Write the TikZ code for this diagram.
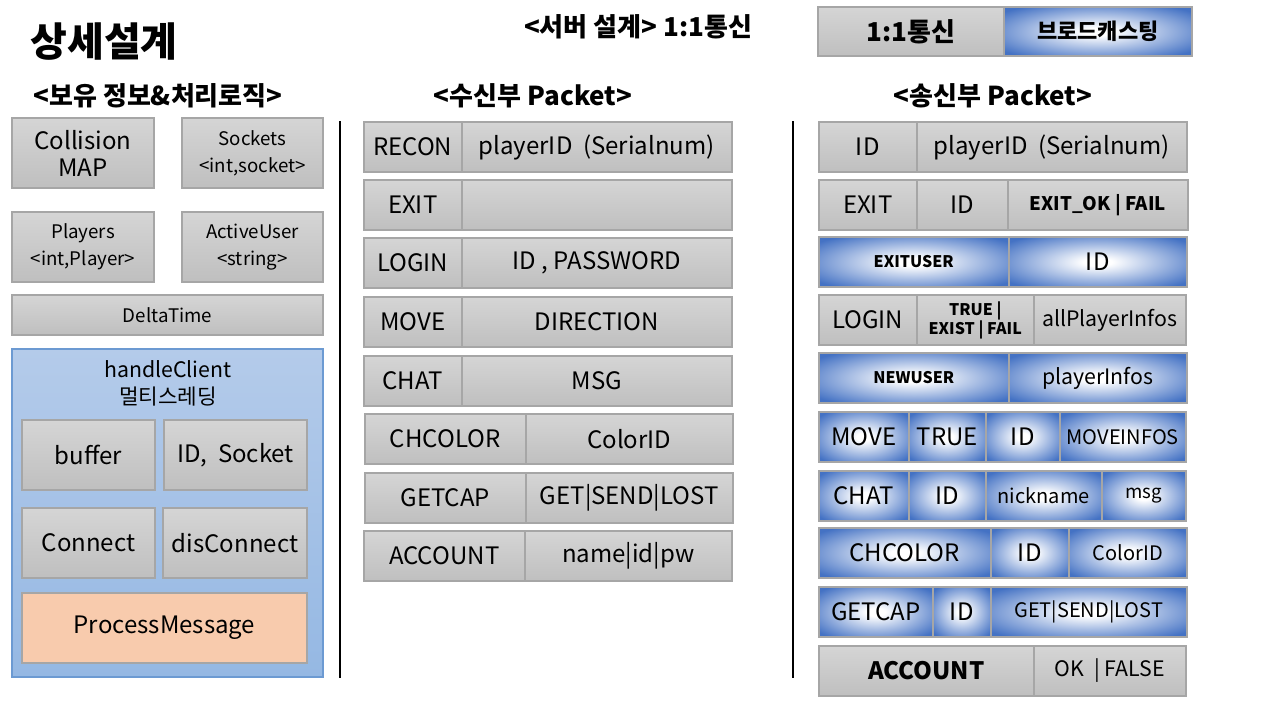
\documentclass[tikz,border=0pt]{standalone}
\usepackage{fontspec}
\setmainfont{Noto Sans CJK KR}
\usepackage{tikz}
\usetikzlibrary{positioning}
\definecolor{mygray}{RGB}{166,166,166}
\definecolor{mygraytop}{RGB}{213,213,213}
\definecolor{mygraybottom}{RGB}{191,191,191}
\definecolor{myblue}{RGB}{68,114,196}
\definecolor{myskytop}{RGB}{180,203,234}
\definecolor{myskybottom}{RGB}{149,184,227}
\definecolor{myskyline}{RGB}{108,154,210}
\definecolor{mypeach}{RGB}{248,203,173}
\pgfdeclareradialshading{glow}{\pgfpoint{0bp}{0bp}}{color(0bp)=(white); color(4bp)=(white); color(32bp)=(myblue); color(50bp)=(myblue)}
\newcommand{\rowheight}{50}
\newcommand{\boxheight}{70}
\tikzset{
    common/.style={anchor=west, draw=mygray, line width=1.5pt, rectangle, minimum height=\rowheight, inner sep=0pt, font=\fontsize{24}{28}\selectfont},
    cell/.style={common, top color=mygraytop, bottom color=mygraybottom},
    bluecell/.style={common, shade, shading=glow},
    box/.style={cell, anchor=center, minimum height=\boxheight, align=center},
    small/.style={font=\fontsize{18.7}{27}\selectfont},
    mid/.style={font=\fontsize{21.3}{27}\selectfont},
    tiny/.style={font=\bfseries\fontsize{16}{19}\selectfont, align=center},
    heading/.style={font=\bfseries\fontsize{26}{30}\selectfont},
    sep/.style={draw=black, line width=1.3pt}
}
\begin{document}
\begin{tikzpicture}[x=1pt, y=-1pt]
\useasboundingbox (0,0) rectangle (1280,720);

\node[anchor=west, font=\bfseries\fontsize{40}{44}\selectfont] (title) at (27,42) {상세설계};
\node[heading] (keep) at (158,96) {<보유 정보\&처리로직>};
\node[heading] (server) at (638,27) {<서버 설계> 1:1통신};
\node[heading] (recv) at (533,96) {<수신부 Packet>};
\node[heading] (send) at (993,96) {<송신부 Packet>};

\path (817,31.5) node[cell, minimum width=186, minimum height=49, heading] (UNI) {1:1통신}
    to ++(0:186) node[bluecell, minimum width=188, minimum height=49, font=\bfseries\fontsize{22}{25}\selectfont] (BROAD) {브로드캐스팅};

\node[box, minimum width=142] (COLL) at (83,153) {Collision\\[-1pt]MAP};
\node[box, minimum width=141, small] (SOCK) at (252.5,153) {Sockets\\<int,socket>};
\node[box, minimum width=142, small] (PLAY) at (83,247) {Players\\<int,Player>};
\node[box, minimum width=141, small] (ACT) at (252.5,247) {ActiveUser\\<string>};
\node[box, minimum width=311, minimum height=40, small] (DELTA) at (167.5,315) {DeltaTime};

\node[draw=myskyline, line width=1.2pt, top color=myskytop, bottom color=myskybottom, minimum width=311, minimum height=328] (HC) at (167.5,513) {};
\node[mid, align=center] (HCTITLE) at (168,383) {handleClient\\멀티스레딩};
\node[box, minimum width=133] (BUF) at (88.5,455) {buffer};
\node[box, minimum width=143] (IDSOCK) at (235.5,455) {ID,\ \ Socket};
\node[box, minimum width=133] (CON) at (88.5,543) {Connect};
\node[box, minimum width=144] (DISCON) at (235,543) {disConnect};
\node[box, minimum width=285, fill=mypeach, top color=mypeach, bottom color=mypeach] (PROC) at (164.5,628) {ProcessMessage};

\coordinate (sepLtop) at (340,121);
\coordinate (sepLbot) at (340,678);
\coordinate (sepRtop) at (793,121);
\coordinate (sepRbot) at (793,678);
\draw[sep] (sepLtop) -- (sepLbot);
\draw[sep] (sepRtop) -- (sepRbot);

\path (363,147) node[cell, minimum width=98] (rRECON) {RECON}
    to ++(0:98) node[cell, minimum width=270] (rRECONarg) {playerID\ \ (Serialnum)};
\path (363,205) node[cell, minimum width=98] (rEXIT) {EXIT}
    to ++(0:98) node[cell, minimum width=270] (rEXITarg) {};
\path (363,263) node[cell, minimum width=98] (rLOGIN) {LOGIN}
    to ++(0:98) node[cell, minimum width=270] (rLOGINarg) {ID\ ,\ PASSWORD};
\path (363,322) node[cell, minimum width=98] (rMOVE) {MOVE}
    to ++(0:98) node[cell, minimum width=270] (rMOVEarg) {DIRECTION};
\path (363,381) node[cell, minimum width=98] (rCHAT) {CHAT}
    to ++(0:98) node[cell, minimum width=270] (rCHATarg) {MSG};
\path (364,439) node[cell, minimum width=161] (rCHCOLOR) {CHCOLOR}
    to ++(0:161) node[cell, minimum width=207] (rCHCOLORarg) {ColorID};
\path (364,498) node[cell, minimum width=161] (rGETCAP) {GETCAP}
    to ++(0:161) node[cell, minimum width=207] (rGETCAParg) {GET|SEND|LOST};
\path (363,556) node[cell, minimum width=161] (rACCOUNT) {ACCOUNT}
    to ++(0:161) node[cell, minimum width=207] (rACCOUNTarg) {name|id|pw};

\path (818,147) node[cell, minimum width=98] (sID) {ID}
    to ++(0:98) node[cell, minimum width=270] (sIDarg) {playerID\ \ (Serialnum)};
\path (818,205) node[cell, minimum width=98] (sEXIT) {EXIT}
    to ++(0:98) node[cell, minimum width=91] (sEXITid) {ID}
    to ++(0:91) node[cell, minimum width=180, font=\bfseries\fontsize{18.7}{22}\selectfont] (sEXITres) {EXIT\_OK | FAIL};
\path (818,262) node[bluecell, minimum width=190, tiny] (sEXITUSER) {EXITUSER}
    to ++(0:190) node[bluecell, minimum width=178] (sEXITUSERid) {ID};
\path (818,320) node[cell, minimum width=98] (sLOGIN) {LOGIN}
    to ++(0:98) node[cell, minimum width=117, tiny] (sLOGINres) {TRUE |\\EXIST | FAIL}
    to ++(0:117) node[cell, minimum width=152, mid] (sLOGINinfo) {allPlayerInfos};
\path (818,378) node[bluecell, minimum width=190, tiny] (sNEWUSER) {NEWUSER}
    to ++(0:190) node[bluecell, minimum width=178, mid] (sNEWUSERinfo) {playerInfos};
\path (818,437) node[bluecell, minimum width=90] (sMOVE) {MOVE}
    to ++(0:90) node[bluecell, minimum width=77] (sMOVEres) {TRUE}
    to ++(0:77) node[bluecell, minimum width=74] (sMOVEid) {ID}
    to ++(0:74) node[bluecell, minimum width=126, font=\fontsize{20}{24}\selectfont] (sMOVEinfo) {MOVEINFOS};
\path (818,496) node[bluecell, minimum width=90] (sCHAT) {CHAT}
    to ++(0:90) node[bluecell, minimum width=77] (sCHATid) {ID}
    to ++(0:77) node[bluecell, minimum width=116, font=\fontsize{20}{24}\selectfont] (sCHATnick) {nickname}
    to ++(0:116) node[bluecell, minimum width=84, small] (sCHATmsg) {msg};
\path (818,553) node[bluecell, minimum width=172] (sCHCOLOR) {CHCOLOR}
    to ++(0:172) node[bluecell, minimum width=78] (sCHCOLORid) {ID}
    to ++(0:78) node[bluecell, minimum width=118, font=\fontsize{20}{24}\selectfont] (sCHCOLORarg) {ColorID};
\path (818,612) node[bluecell, minimum width=114] (sGETCAP) {GETCAP}
    to ++(0:114) node[bluecell, minimum width=58] (sGETCAPid) {ID}
    to ++(0:58) node[bluecell, minimum width=196, font=\fontsize{20}{24}\selectfont] (sGETCAParg) {GET|SEND|LOST};
\path (818,671) node[cell, minimum width=215, heading, font=\bfseries\fontsize{24}{28}\selectfont] (sACCOUNT) {ACCOUNT}
    to ++(0:215) node[cell, minimum width=152, mid] (sACCOUNTres) {OK\ \ |\ FALSE};
\end{tikzpicture}
\end{document}
